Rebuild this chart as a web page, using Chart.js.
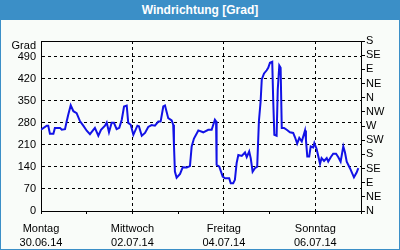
<!DOCTYPE html>
<html><head><meta charset="utf-8">
<script src="https://cdn.jsdelivr.net/npm/chart.js@4/dist/chart.umd.min.js"></script>
<style>
html,body{margin:0;padding:0;background:#fff;}
#frame{position:relative;width:400px;height:250px;box-sizing:border-box;border:1px solid #3b8fc7;border-top:none;background:#f9fcf9;}
#title{position:absolute;left:-1px;top:0;width:400px;height:20px;background:#3b8fc7;color:#fff;font:bold 12px "Liberation Sans",Arial,sans-serif;text-align:center;line-height:21px;}
#wrap{position:absolute;left:0;top:20px;width:398px;height:229px;}
</style></head><body>
<div id="frame"><div id="title">Windrichtung [Grad]</div><div id="wrap"><canvas id="c" width="398" height="229"></canvas></div></div>
<script>
const hours = [0,3.0,3.8,4.7,6.5,7.3,10.0,10.9,12.6,13.5,14.3,15.6,17.0,18.7,20.5,22.2,24.0,25.7,28.3,30.1,31.5,33.6,34.5,35.7,37.1,38.3,39.7,41.1,42.4,43.6,45.0,45.8,47.1,48.5,50.6,51.4,52.9,54.6,56.3,58.1,59.8,61.6,62.8,64.2,65.1,66.8,68.6,69.4,69.8,70.3,71.2,73.0,74.4,76.5,78.2,79.1,80.3,82.6,85.2,87.8,89.6,91.3,91.9,92.2,93.6,95.4,96.6,98.8,99.6,100.9,101.8,102.7,103.6,105.4,107.1,108.0,109.3,110.1,111.1,112.3,113.5,114.4,115.3,115.9,117.1,118.5,119.3,120.2,121.4,121.9,122.5,123.7,124.3,125.1,125.8,126.4,127.6,129.0,130.7,132.4,133.3,134.5,135.6,136.9,138.6,139.1,139.8,140.8,141.6,142.9,143.5,144.7,146.5,147.3,148.6,150.0,150.8,152.1,153.4,154.9,156.1,157.3,158.7,159.6,160.5,162.2,164.3,165.7,166.6];
const degrees = [258,271,271,245,245,264,264,258,260,285,306,336,317,311,285,271,255,244,264,239,258,271,281,250,280,280,260,264,290,332,335,280,274,242,271,269,239,248,267,273,271,284,284,332,335,295,288,274,210,125,106,118,139,138,143,205,230,256,250,258,258,290,285,147,141,109,104,104,88,88,99,152,178,175,186,171,189,168,125,136,141,285,348,418,437,447,455,471,474,354,242,239,386,462,455,264,264,258,250,248,235,214,232,221,256,226,173,173,205,202,216,197,150,168,159,168,157,171,182,182,171,157,205,186,157,136,107,122,136];
const dayNames = ["Montag","Dienstag","Mittwoch","Donnerstag","Freitag","Samstag","Sonntag","Montag"];
const dateLabels = ["30.06.14","01.07.14","02.07.14","03.07.14","04.07.14","05.07.14","06.07.14","07.07.14"];
const compassLabels = ["N","NE","E","SE","S","SW","W","NW","N","NE","E","SE","S"];
const unitLabel = "Grad";

const FONT = {family:'"Liberation Sans", Arial, sans-serif', size:11};
const XFONT = {family:'"Liberation Sans", Arial, sans-serif', size:11, lineHeight:1.3};
const clear = 'rgba(0,0,0,0)';

const gradPlugin = {
  id:'gradLabel',
  afterDraw(chart){
    const ctx = chart.ctx, y = chart.scales.y;
    ctx.save();
    ctx.font = '11px "Liberation Sans", Arial, sans-serif';
    ctx.fillStyle = '#000';
    ctx.textAlign = 'right';
    ctx.textBaseline = 'middle';
    ctx.fillText(unitLabel, y.right - 5, y.top + 5);
    ctx.restore();
  }
};

new Chart(document.getElementById('c'), {
  type:'line',
  data:{datasets:[{
    data: hours.map((h,i)=>({x:h,y:degrees[i]})),
    borderColor:'#1212e6', borderWidth:2, pointRadius:0, tension:0,
    xAxisID:'x', yAxisID:'y'
  }]},
  options:{
    responsive:false, animation:false, devicePixelRatio:1,
    layout:{padding:0},
    plugins:{legend:{display:false}, tooltip:{enabled:false}, title:{display:false}},
    scales:{
      x:{type:'linear', position:'bottom', min:0, max:168,
        ticks:{stepSize:24, autoSkip:false, maxRotation:0, padding:8, color:'#000', font:XFONT,
          callback:(v)=>{const i=Math.round(v/24); return (i%2===0 && i<7) ? [dayNames[i], dateLabels[i]] : '';}},
        grid:{color:(c)=> (c.tick && [48,96,144].includes(c.tick.value)) ? '#000' : clear,
          tickColor:'#000', tickLength:3, lineWidth:1},
        border:{color:'#000', width:1, dash:[3,3]},
        afterFit:(s)=>{s.height = 38;}
      },
      x2:{type:'linear', position:'top', min:0, max:168,
        ticks:{display:false}, grid:{drawOnChartArea:false, drawTicks:false},
        border:{color:'#000', width:1},
        afterFit:(s)=>{s.height = 21;}
      },
      y:{type:'linear', position:'left', min:0, max:540,
        ticks:{stepSize:70, padding:5, color:'#000', font:FONT, autoSkip:false,
          callback:(v)=> v>490 ? '' : String(v)},
        grid:{color:(c)=> (c.tick && c.tick.value>0 && c.tick.value<=490) ? '#000' : clear, drawTicks:false},
        border:{color:'#000', width:1, dash:[3,3]},
        afterFit:(s)=>{s.width = 40;}
      },
      y2:{type:'linear', position:'right', min:0, max:540,
        ticks:{stepSize:45, padding:1, color:'#000', font:FONT, autoSkip:false,
          callback:(v)=> compassLabels[Math.round(v/45)]},
        grid:{drawOnChartArea:false, tickColor:'#000', tickLength:4},
        border:{color:'#000', width:1},
        afterFit:(s)=>{s.width = 38;}
      }
    }
  },
  plugins:[gradPlugin]
});
</script>
</body></html>
